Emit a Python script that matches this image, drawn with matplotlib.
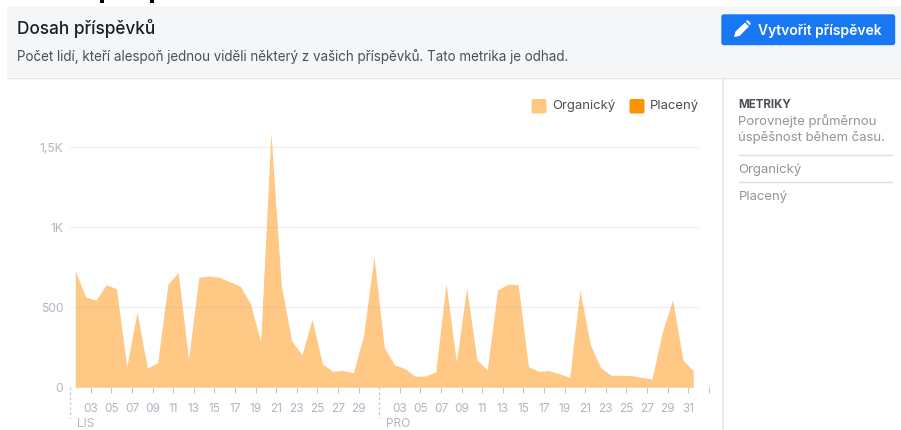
import matplotlib
matplotlib.use("Agg")
import matplotlib.pyplot as plt
from matplotlib.patches import Rectangle, FancyBboxPatch, Polygon

plt.rcParams['font.family'] = ['Inter', 'DejaVu Sans']

organic_nov = [729, 565, 544, 640, 617, 129, 471, 121, 154, 646, 717, 175, 688, 696, 688,
               660, 633, 525, 285, 1590, 640, 292, 202, 425, 146, 100, 106, 90, 327, 817]
organic_dec = [250, 140, 117, 69, 71, 96, 650, 160, 623, 171, 108, 608, 644, 642, 129, 100,
               104, 85, 62, 608, 267, 123, 75, 75, 73, 62, 52, 348, 546, 171, 102]
paid_nov = [0] * 30
paid_dec = [0] * 31
y_ticks = [0, 500, 1000, 1500]
y_labels = ['0', '500', '1K', '1,5K']
nov_labels = ['03', '05', '07', '09', '11', '13', '15', '17', '19', '21', '23', '25', '27', '29']
dec_labels = ['03', '05', '07', '09', '11', '13', '15', '17', '19', '21', '23', '25', '27', '29', '31']
month_labels = ['LIS', 'PRO']

W, H = 901, 430
fig = plt.figure(figsize=(W / 100, H / 100), dpi=100, facecolor='white')

# full-figure pixel overlay for page furniture
ui = fig.add_axes([0, 0, 1, 1], zorder=0)
ui.set_xlim(0, W); ui.set_ylim(H, 0); ui.axis('off')

ui.add_patch(Rectangle((7, 6), W - 7, 71, fc='#f5f6f7', ec='none'))
ui.plot([7, W], [77.5, 77.5], color='#e3e5e8', lw=1)
ui.plot([722.5, 722.5], [78, H], color='#e6e8eb', lw=1.2)
# cropped descenders of the text above the card
ui.add_patch(Rectangle((100, 0), 4, 3, fc='black', ec='none'))
ui.add_patch(Rectangle((150, 0), 4, 3, fc='black', ec='none'))

ui.text(17, 28, 'Dosah příspěvků', fontsize=12.4, fontweight='medium', color='#1c1e21', va='center')
ui.text(17, 56.5, 'Počet lidí, kteří alespoň jednou viděli některý z vašich příspěvků. Tato metrika je odhad.',
        fontsize=9.66, color='#4b4f56', va='center')

ui.add_patch(FancyBboxPatch((722, 15), 172.5, 29.5, boxstyle='round,pad=0,rounding_size=2',
                            fc='#1877f2', ec='#1877f2', lw=1))
ui.add_patch(Polygon([(734, 37), (735.5, 31.5), (745, 22.5), (749, 26.5), (739.5, 36)], fc='white', ec='none'))
ui.add_patch(Polygon([(746, 21.5), (747.5, 20), (751, 23.5), (749.8, 25.3)], fc='white', ec='none'))
ui.text(758, 30.5, 'Vytvořit příspěvek', fontsize=10.0, fontweight='semibold', color='white', va='center')

ui.text(738.5, 105, 'METRIKY', fontsize=8.3, fontweight='bold', color='#4b4f56', va='center')
ui.text(738.5, 121.5, 'Porovnejte průměrnou', fontsize=9.45, color='#90949c', va='center')
ui.text(738.5, 138, 'úspěšnost během času.', fontsize=9.45, color='#90949c', va='center')
ui.plot([739, 892], [154.5, 154.5], color='#dadde1', lw=1)
ui.text(738.5, 170, 'Organický', fontsize=9.45, color='#90949c', va='center')
ui.plot([739, 892], [181.5, 181.5], color='#dadde1', lw=1)
ui.text(738.5, 197, 'Placený', fontsize=9.45, color='#90949c', va='center')

# chart axes: x in days from 1 Nov, px 70.1..708.7; y 0 at px 387.3, 500 = 80 px
x0, x1 = 70.1, 708.7
y_bottom, y_top = 387.3, 90.0
ax = fig.add_axes([x0 / W, 1 - y_bottom / H, (x1 - x0) / W, (y_bottom - y_top) / H], zorder=1)
ax.patch.set_alpha(0)
ax.set_xlim(0, 62)
ax.set_ylim(0, (y_bottom - y_top) / 80 * 500)
for s in ax.spines.values():
    s.set_visible(False)

organic = organic_nov + organic_dec
paid = paid_nov + paid_dec
xs = [i + 0.5 for i in range(len(organic))]
ax.fill_between(xs, 0, organic, color='#ffc885', lw=0, zorder=2)
ax.fill_between(xs, organic, [o + p for o, p in zip(organic, paid)], color='#fb9300', lw=0, zorder=2)

for v in y_ticks:
    ax.plot([0, 61], [v, v], color='#8d949e', alpha=0.12, lw=1, zorder=3)
ax.set_yticks(y_ticks, y_labels)
ax.tick_params(axis='y', length=0, pad=5, labelsize=8.7, labelcolor='#b0b5c0')

tick_pos = list(range(2, 29, 2)) + list(range(32, 61, 2)) + [62]
ax.set_xticks(tick_pos, nov_labels + dec_labels + [''])
ax.tick_params(axis='x', length=4.5, width=0.8, color='#c4c8ce', pad=7, labelsize=8.5, labelcolor='#b0b5c0')

# dashed month separators and month labels
for pos, lab in zip([0, 30], month_labels):
    ax.plot([pos, pos], [0, -190], color='#c4c8ce', lw=0.9, ls=(0, (2, 2)), clip_on=False, zorder=3)
    ax.text(pos + 0.65, -232, lab, fontsize=8.5, color='#b0b5c0', va='center', ha='left')

handles = [Rectangle((0, 0), 1, 1, fc='#ffc885', ec='none', label='Organický'),
           Rectangle((0, 0), 1, 1, fc='#fb9300', ec='none', label='Placený')]
ui.add_patch(FancyBboxPatch((531.5, 99), 15, 14.5, boxstyle='round,pad=0,rounding_size=2', fc='#ffc885', ec='none'))
ui.add_patch(FancyBboxPatch((629.5, 99), 15, 14.5, boxstyle='round,pad=0,rounding_size=2', fc='#fb9300', ec='none'))
ui.text(552, 106, handles[0].get_label(), fontsize=9.45, color='#4b4f56', va='center')
ui.text(650, 106, handles[1].get_label(), fontsize=9.45, color='#4b4f56', va='center')

fig.savefig('out.png', dpi=100, facecolor='white')
